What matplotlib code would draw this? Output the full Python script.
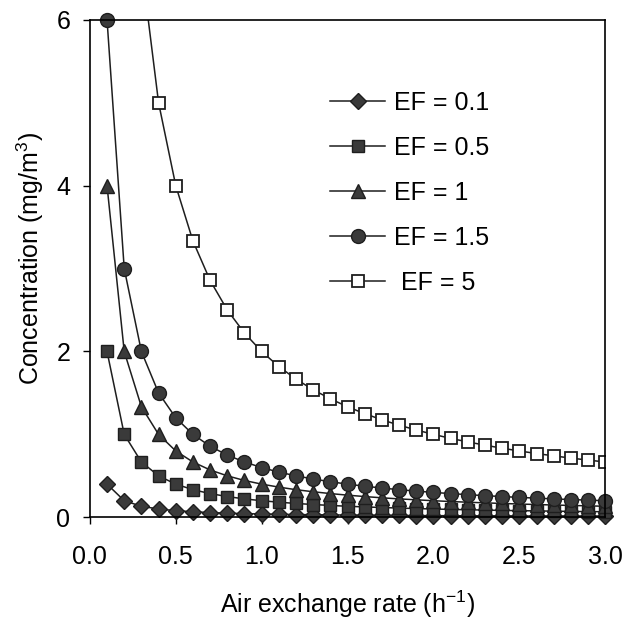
import matplotlib
matplotlib.use('Agg')
import matplotlib.pyplot as plt

plt.rcParams['font.family'] = ['Liberation Sans', 'DejaVu Sans']
plt.rcParams['mathtext.default'] = 'regular'

# Air exchange rate (h^-1)
ach = [0.1, 0.2, 0.3, 0.4, 0.5, 0.6, 0.7, 0.8, 0.9, 1.0,
       1.1, 1.2, 1.3, 1.4, 1.5, 1.6, 1.7, 1.8, 1.9, 2.0,
       2.1, 2.2, 2.3, 2.4, 2.5, 2.6, 2.7, 2.8, 2.9, 3.0]

# Concentration (mg/m3) for each emission factor
ef_01 = [0.4, 0.2, 0.133, 0.1, 0.08, 0.067, 0.057, 0.05, 0.044, 0.04,
         0.036, 0.033, 0.031, 0.029, 0.027, 0.025, 0.024, 0.022, 0.021, 0.02,
         0.019, 0.018, 0.017, 0.017, 0.016, 0.015, 0.015, 0.014, 0.014, 0.013]
ef_05 = [2.0, 1.0, 0.667, 0.5, 0.4, 0.333, 0.286, 0.25, 0.222, 0.2,
         0.182, 0.167, 0.154, 0.143, 0.133, 0.125, 0.118, 0.111, 0.105, 0.1,
         0.095, 0.091, 0.087, 0.083, 0.08, 0.077, 0.074, 0.071, 0.069, 0.067]
ef_1 = [4.0, 2.0, 1.333, 1.0, 0.8, 0.667, 0.571, 0.5, 0.444, 0.4,
        0.364, 0.333, 0.308, 0.286, 0.267, 0.25, 0.235, 0.222, 0.211, 0.2,
        0.19, 0.182, 0.174, 0.167, 0.16, 0.154, 0.148, 0.143, 0.138, 0.133]
ef_15 = [6.0, 3.0, 2.0, 1.5, 1.2, 1.0, 0.857, 0.75, 0.667, 0.6,
         0.545, 0.5, 0.462, 0.429, 0.4, 0.375, 0.353, 0.333, 0.316, 0.3,
         0.286, 0.273, 0.261, 0.25, 0.24, 0.231, 0.222, 0.214, 0.207, 0.2]
ef_5 = [20.0, 10.0, 6.667, 5.0, 4.0, 3.333, 2.857, 2.5, 2.222, 2.0,
        1.818, 1.667, 1.538, 1.429, 1.333, 1.25, 1.176, 1.111, 1.053, 1.0,
        0.952, 0.909, 0.87, 0.833, 0.8, 0.769, 0.741, 0.714, 0.69, 0.667]

fig = plt.figure(figsize=(6.24, 6.21), dpi=100)
ax = fig.add_axes([0.144, 0.167, 0.826, 0.801])

dark = '#1e1e1e'
fill = '#3a3a3a'
ax.plot(ach, ef_01, marker='D', ms=8, color=dark, mfc=fill, mec=dark, lw=1.1, label='EF = 0.1', clip_on=False)
ax.plot(ach, ef_05, marker='s', ms=9, color=dark, mfc=fill, mec=dark, lw=1.1, label='EF = 0.5', clip_on=False)
ax.plot(ach, ef_1, marker='^', ms=10, color=dark, mfc=fill, mec=dark, lw=1.1, label='EF = 1', clip_on=False)
ax.plot(ach, ef_15, marker='o', ms=10, color=dark, mfc=fill, mec=dark, lw=1.1, label='EF = 1.5', clip_on=False)
ax.plot(ach, ef_5, marker='s', ms=8.5, color=dark, mfc='white', mec=dark, mew=1.3, lw=1.1, label=' EF = 5')

ax.set_xlim(0, 3.0)
ax.set_ylim(0, 6)
ax.set_xticks([0.0, 0.5, 1.0, 1.5, 2.0, 2.5, 3.0])
ax.set_xticklabels(['0.0', '0.5', '1.0', '1.5', '2.0', '2.5', '3.0'])
ax.set_yticks([0, 2, 4, 6])
ax.tick_params(direction='out', length=5, width=1, labelsize=18)
ax.tick_params(axis='x', pad=15)
ax.tick_params(axis='y', pad=9)
for s in ax.spines.values():
    s.set_linewidth(1.2)

ax.set_xlabel('Air exchange rate (h$^{-1}$)', fontsize=18, labelpad=14)
ax.set_ylabel('Concentration (mg/m$^{3}$)', fontsize=18)
ax.yaxis.set_label_coords(-0.085, 0.52)

leg = ax.legend(loc='upper left', bbox_to_anchor=(330 / 624, 1 - 91 / 621),
                bbox_transform=fig.transFigure, frameon=False, borderpad=0,
                borderaxespad=0, fontsize=18, handlelength=2.2,
                labelspacing=0.84, handletextpad=0.35)

fig.savefig('out.png', dpi=100)
